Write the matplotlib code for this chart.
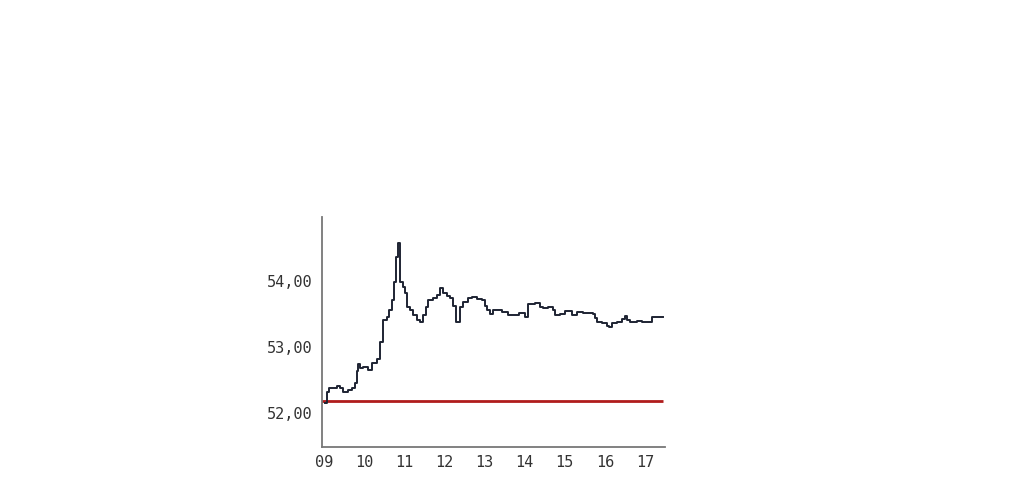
import matplotlib
matplotlib.use("Agg")
import matplotlib.pyplot as plt
from matplotlib.ticker import FuncFormatter

# intraday quote (step changes), times as HH:MM
times = ["09:01", "09:04", "09:07", "09:19", "09:24", "09:28", "09:36", "09:42",
         "09:46", "09:49", "09:51", "09:54", "09:58", "10:06", "10:12", "10:19",
         "10:24", "10:28", "10:34", "10:37", "10:42", "10:45", "10:48", "10:51",
         "10:54", "10:58", "11:01", "11:04", "11:09", "11:13", "11:19", "11:24",
         "11:28", "11:33", "11:36", "11:43", "11:49", "11:54", "11:58", "12:04",
         "12:08", "12:13", "12:17", "12:23", "12:28", "12:35", "12:41", "12:49",
         "12:56", "13:01", "13:04", "13:08", "13:13", "13:26", "13:35", "13:49",
         "13:52", "14:01", "14:05", "14:16", "14:23", "14:28", "14:35", "14:43",
         "14:46", "14:53", "15:01", "15:11", "15:19", "15:28", "15:42", "15:45",
         "15:48", "15:56", "16:03", "16:06", "16:11", "16:18", "16:26", "16:30",
         "16:33", "16:38", "16:48", "16:56", "17:11", "17:27"]
prices = [52.15, 52.32, 52.38, 52.41, 52.38, 52.32, 52.35, 52.38,
          52.45, 52.64, 52.74, 52.68, 52.70, 52.65, 52.76, 52.82,
          53.08, 53.41, 53.45, 53.56, 53.71, 53.98, 54.36, 54.58,
          53.98, 53.91, 53.82, 53.61, 53.56, 53.48, 53.41, 53.38,
          53.48, 53.61, 53.71, 53.74, 53.79, 53.89, 53.82, 53.77,
          53.74, 53.62, 53.38, 53.61, 53.68, 53.74, 53.76, 53.73,
          53.71, 53.62, 53.56, 53.50, 53.56, 53.53, 53.48, 53.48,
          53.52, 53.45, 53.65, 53.67, 53.61, 53.59, 53.60, 53.56,
          53.48, 53.50, 53.55, 53.48, 53.53, 53.52, 53.50, 53.44,
          53.38, 53.36, 53.32, 53.30, 53.36, 53.38, 53.43, 53.47,
          53.41, 53.38, 53.40, 53.38, 53.45, 53.45]
prev_close = 52.18

hour_ticks = [9, 10, 11, 12, 13, 14, 15, 16, 17]
price_ticks = [52, 53, 54]

hours = [int(t[:2]) + int(t[3:]) / 60 for t in times]

fig = plt.figure(figsize=(10.36, 5), dpi=100)
ax = fig.add_axes([0.3108, 0.106, 0.3311, 0.46])

# previous close line, stops with the quotes
ax.hlines(prev_close, hours[0] - 0.08, hours[-1], color="#b01c1c", linewidth=2)
ax.step(hours, prices, where="post", color="#1e2433", linewidth=1.4)

ax.set_xlim(8.95, 17.5)
ax.set_ylim(51.485, 54.97)
ax.set_xticks(hour_ticks)
ax.set_xticklabels([f"{h:02d}" for h in hour_ticks])
ax.set_yticks(price_ticks)
ax.yaxis.set_major_formatter(FuncFormatter(lambda v, p: f"{v:.2f}".replace(".", ",")))

for side in ["top", "right"]:
    ax.spines[side].set_visible(False)
for side in ["left", "bottom"]:
    ax.spines[side].set_color("#777777")
    ax.spines[side].set_linewidth(1.3)

ax.tick_params(length=0, labelsize=11, labelcolor="#333333")
ax.tick_params(axis="y", pad=6.5)
ax.tick_params(axis="x", pad=6)
for lbl in ax.get_xticklabels() + ax.get_yticklabels():
    lbl.set_family("DejaVu Sans Mono")

fig.savefig("out.png", dpi=100)
